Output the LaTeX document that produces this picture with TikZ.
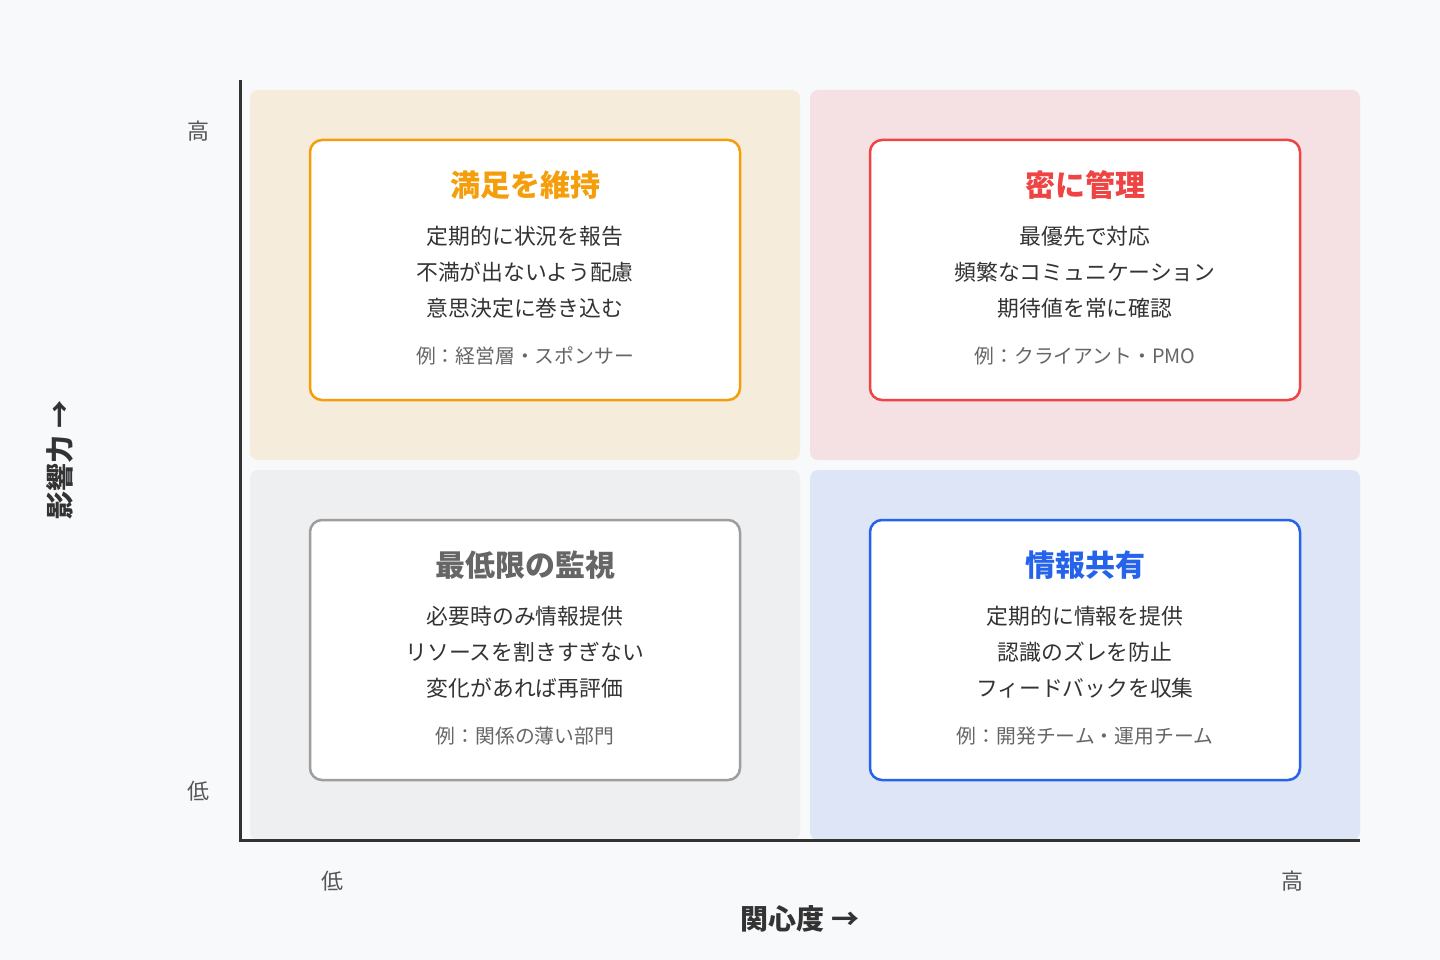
\documentclass[tikz,border=0pt]{standalone}
\usepackage{fontspec}
\setmainfont{Noto Sans CJK JP}
\definecolor{bg}{HTML}{F8F9FA}
\definecolor{qtl}{HTML}{F5ECDC}
\definecolor{qtr}{HTML}{F5E1E3}
\definecolor{qbl}{HTML}{EEEFF1}
\definecolor{qbr}{HTML}{DDE5F6}
\definecolor{corange}{HTML}{F59E0B}
\definecolor{cred}{HTML}{EF4444}
\definecolor{cgray}{HTML}{9E9E9E}
\definecolor{cgraytitle}{HTML}{666666}
\definecolor{cblue}{HTML}{2563EB}
\definecolor{axis}{HTML}{333333}
\definecolor{bodytext}{HTML}{333333}
\definecolor{extext}{HTML}{666666}
\definecolor{ticktext}{HTML}{555555}
\tikzset{
  quad/.style={fill=#1, draw=none, rounded corners=8pt},
  card/.style={draw=#1, line width=2.5pt, fill=white, rounded corners=12pt},
  ctitle/.style={font=\fontsize{30}{34}\selectfont\bfseries, text=#1, anchor=center},
  cbody/.style={font=\fontsize{21.8}{26}\selectfont, text=bodytext, anchor=center},
  cex/.style={font=\fontsize{19.8}{24}\selectfont, text=extext, anchor=center},
  tick/.style={font=\fontsize{22}{26}\selectfont, text=ticktext, anchor=center},
  axlabel/.style={font=\fontsize{28}{32}\selectfont\bfseries, text=axis, anchor=center},
}
\begin{document}
\begin{tikzpicture}[x=1pt,y=-1pt]
\fill[bg] (0,0) rectangle (1440,960);
\useasboundingbox (0,0) rectangle (1440,960);
% quadrants
\fill[quad=qtl] (250,90) rectangle (800,460);
\fill[quad=qtr] (810,90) rectangle (1360,460);
\fill[quad=qbl] (250,470) rectangle (800,840);
\fill[quad=qbr] (810,470) rectangle (1360,840);
% axes
\coordinate (ytop) at (240,80);
\coordinate (origin) at (240,840);
\coordinate (xend) at (1360,840);
\draw[axis, line width=3pt] (ytop) -- (origin) -- (xend);
% cards
\draw[card=corange] (310,140) rectangle (740,400);
\draw[card=cred] (870,140) rectangle (1300,400);
\draw[card=cgray] (310,520) rectangle (740,780);
\draw[card=cblue] (870,520) rectangle (1300,780);
% TL
\node[ctitle=corange] (t1) at (525,185) {満足を維持};
\node[cbody] (t1a) at (525,236) {定期的に状況を報告};
\node[cbody] (t1b) at (525,272) {不満が出ないよう配慮};
\node[cbody] (t1c) at (525,308) {意思決定に巻き込む};
\node[cex] (t1e) at (525,356) {例：経営層・スポンサー};
% TR
\node[ctitle=cred] (t2) at (1085,185) {密に管理};
\node[cbody] (t2a) at (1085,236) {最優先で対応};
\node[cbody] (t2b) at (1085,272) {頻繁なコミュニケーション};
\node[cbody] (t2c) at (1085,308) {期待値を常に確認};
\node[cex] (t2e) at (1085,356) {例：クライアント・PMO};
% BL
\node[ctitle=cgraytitle] (t3) at (525,565) {最低限の監視};
\node[cbody] (t3a) at (525,616) {必要時のみ情報提供};
\node[cbody] (t3b) at (525,652) {リソースを割きすぎない};
\node[cbody] (t3c) at (525,688) {変化があれば再評価};
\node[cex] (t3e) at (525,736) {例：関係の薄い部門};
% BR
\node[ctitle=cblue] (t4) at (1085,565) {情報共有};
\node[cbody] (t4a) at (1085,616) {定期的に情報を提供};
\node[cbody] (t4b) at (1085,652) {認識のズレを防止};
\node[cbody] (t4c) at (1085,688) {フィードバックを収集};
\node[cex] (t4e) at (1085,736) {例：開発チーム・運用チーム};
% ticks
\node[tick] (yhi) at (198,131) {高};
\node[tick] (ylo) at (198,791) {低};
\node[tick] (xlo) at (332,881) {低};
\node[tick] (xhi) at (1292,881) {高};
% axis labels
\node[axlabel] (xl) at (800,919) {関心度 →};
\node[axlabel, rotate=90] (yl) at (60,460) {影響力 →};
\end{tikzpicture}
\end{document}
